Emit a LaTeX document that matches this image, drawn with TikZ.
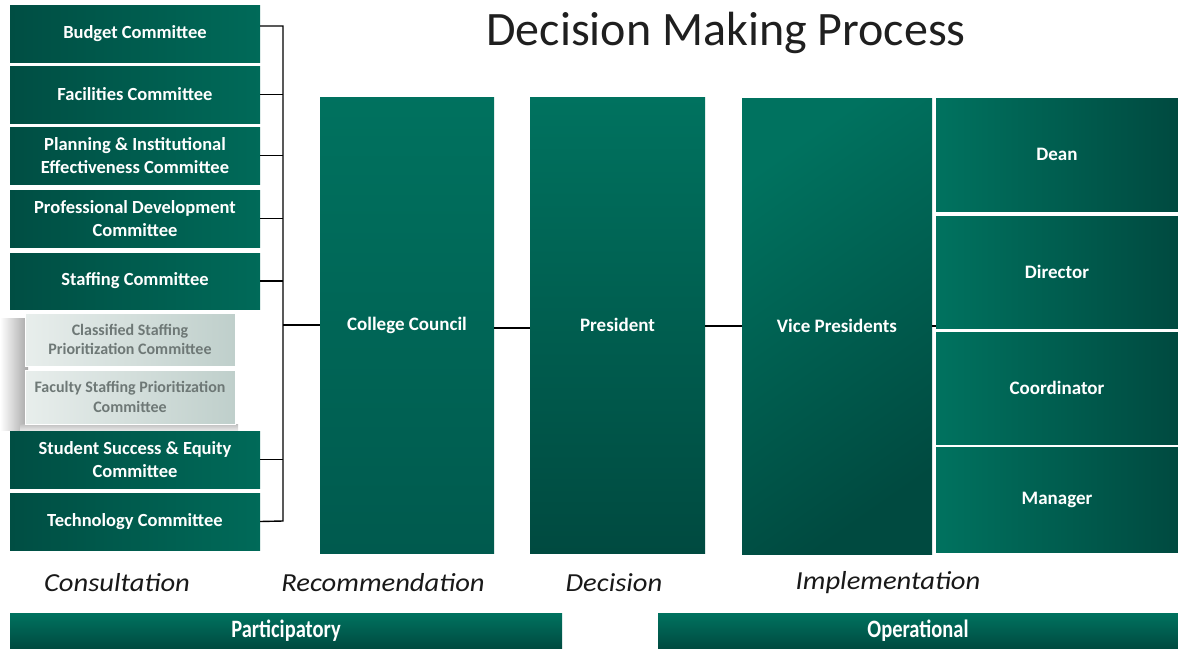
\documentclass[tikz,border=0pt]{standalone}
\usepackage{fontspec}
\usepackage{graphicx}
\setmainfont{Carlito}
\usetikzlibrary{shadings}
\definecolor{tealA}{HTML}{00725F}
\definecolor{tealM}{HTML}{006858}
\definecolor{tealB}{HTML}{004A40}
\definecolor{tealC}{HTML}{005A4E}
\definecolor{paleA}{HTML}{E8EEEC}
\definecolor{paleB}{HTML}{BFCFCB}
\definecolor{paletext}{HTML}{6E7876}
\newcommand{\wide}[1]{\scalebox{1.1}[1]{#1}}
\newcommand{\narrow}[1]{\scalebox{0.82}[1]{#1}}
\begin{document}
\begin{tikzpicture}[x=1pt,y=-1pt,
  cbox/.style={rectangle, inner sep=0pt, align=center, text=white,
    font=\fontsize{18.5}{23}\selectfont\bfseries,
    left color=tealB!90!tealA, middle color=tealA, right color=tealA!80!tealB, minimum width=250pt},
  pbox/.style={rectangle, inner sep=0pt, align=center, text=paletext,
    font=\fontsize{16}{19.5}\selectfont\bfseries,
    left color=paleA, middle color=white!92!paleB, right color=paleB,
    minimum width=210pt, draw=white, line width=1pt},
  bigbox/.style={rectangle, inner sep=0pt, align=center, text=white,
    font=\fontsize{19}{23}\selectfont\bfseries, minimum height=456pt},
  rbox/.style={rectangle, inner sep=0pt, align=center, text=white,
    font=\fontsize{19}{23}\selectfont\bfseries,
    left color=tealA, right color=tealB, minimum width=242pt},
  stage/.style={font=\fontsize{26}{30}\selectfont\itshape, text=black!90},
  bar/.style={rectangle, inner sep=0pt, text=white, minimum height=35pt,
    top color=tealA, bottom color=tealB,
    font=\fontsize{25}{28}\selectfont\bfseries},
  conn/.style={line width=1.4pt, black}
]
\useasboundingbox (0,0) rectangle (1178,648);
\fill[white] (0,0) rectangle (1178,648);

% title
\node[font=\fontsize{48}{54}\selectfont, text=black!88] (title) at (726,33) {Decision Making Process};

% shadow behind pale boxes
\fill[left color=white, right color=black!35] (0,318) rectangle (28,430);
\fill[top color=black!25, bottom color=white] (20,424) rectangle (238,434);

% left committee boxes
\node[cbox, minimum height=57pt] (budget) at (135,33.5) {Budget Committee};
\node[cbox, minimum height=57pt] (facil) at (135,94.5) {Facilities Committee};
\node[cbox, minimum height=57pt] (plan) at (135,155.5) {Planning \& Institutional\\Effectiveness Committee};
\node[cbox, minimum height=57pt] (prof) at (135,218.5) {Professional Development\\Committee};
\node[cbox, minimum height=56pt] (staff) at (135,281) {Staffing Committee};
\node[pbox, minimum height=53pt] (class) at (130,339.5) {Classified Staffing\\Prioritization Committee};
\node[pbox, minimum height=54pt] (fac) at (130,397) {Faculty Staffing Prioritization\\Committee};
\node[cbox, minimum height=57pt] (stud) at (135,459.5) {Student Success \& Equity\\Committee};
\node[cbox, minimum height=57pt] (tech) at (135,521.5) {Technology Committee};

% big boxes
\node[bigbox, minimum width=174pt, top color=tealA!95!tealM, bottom color=tealC] (cc) at (407,325) {College Council};
\node[bigbox, minimum width=175pt, top color=tealA, bottom color=tealB] (pres) at (617.5,325) {President};
\node[bigbox, minimum width=190pt, top color=tealA, bottom color=tealB, shading angle=35] (vp) at (837,326) {Vice Presidents};

% right boxes
\node[rbox, minimum height=113pt] (dean) at (1057,154.5) {Dean};
\node[rbox, minimum height=112pt] (dir) at (1057,272) {Director};
\node[rbox, minimum height=112pt] (coord) at (1057,388) {Coordinator};
\node[rbox, minimum height=105pt] (mgr) at (1057,499.5) {Manager};

% bracket connectors
\coordinate (btop) at (283,26);
\coordinate (bbot) at (283,521);
\coordinate (bmid) at (283,325);
\draw[conn] ([yshift=7.5pt]budget.east) -- (btop) -- (bbot) -- (tech.east);
\draw[conn] (facil.east) -- (facil.east -| btop);
\draw[conn] (plan.east) -- (plan.east -| btop);
\draw[conn] (prof.east) -- (prof.east -| btop);
\draw[conn] (staff.east) -- (staff.east -| btop);
\draw[conn] (stud.east) -- (stud.east -| btop);
\draw[conn] (bmid) -- (bmid -| cc.west);
\draw[conn] ([yshift=-3pt]cc.east) -- ([yshift=-3pt]cc.east -| pres.west);
\draw[conn] ([yshift=-1pt]pres.east) -- ([yshift=-1pt]pres.east -| vp.west);
\draw[conn] (vp.east) -- (vp.east -| dir.west);

% stage labels
\node[stage] (s1) at (117,583) {\wide{Consultation}};
\node[stage] (s2) at (383,583) {\wide{Recommendation}};
\node[stage] (s3) at (614,583) {\wide{Decision}};
\node[stage] (s4) at (888,583) {\wide{Implementation}};

% bottom bars
\node[bar, minimum width=552pt] (part) at (286,631) {\narrow{Participatory}};
\node[bar, minimum width=520pt] (oper) at (918,631) {\narrow{Operational}};
\end{tikzpicture}
\end{document}
